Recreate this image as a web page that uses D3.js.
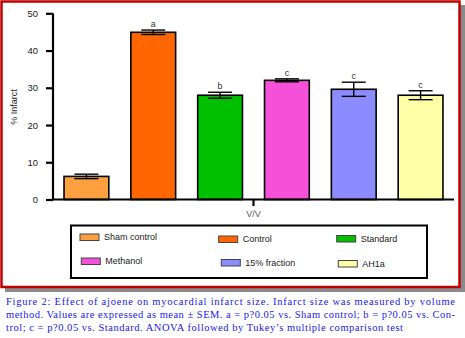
<!DOCTYPE html>
<html><head><meta charset="utf-8">
<script src="https://cdn.jsdelivr.net/npm/d3@7"></script>
<style>body{margin:0;background:#fff}svg{display:block}</style>
</head><body>
<script>
const categories = ["Sham control","Control","Standard","Methanol","15% fraction","AH1a"];
const means = [6.2, 44.9, 28.0, 32.0, 29.6, 28.0];
const sems = [0.6, 0.6, 0.8, 0.4, 1.9, 1.2];
const sigLetters = ["", "a", "b", "c", "c", "c"];
const colors = ["#FFA040","#FF6600","#00C000","#F550D8","#8C8CFF","#FFFFA8"];
const yTicks = [0,10,20,30,40,50];
const xLabel = "V/V";
const yLabel = "% Infarct";
const captionLines = [
 "Figure 2: Effect of ajoene on myocardial infarct size. Infarct size was measured by volume",
 "method. Values are expressed as mean \u00b1 SEM. a = p?0.05 vs. Sham control; b = p?0.05 vs. Con-",
 "trol; c = p?0.05 vs. Standard. ANOVA followed by Tukey\u2019s multiple comparison test"
];

const W=465,H=338;
const svg=d3.select("body").append("svg").attr("width",W).attr("height",H);
// shadow + frame
svg.append("rect").attr("x",5).attr("y",5).attr("width",460).attr("height",287).attr("fill","#8a8a8a");
svg.append("rect").attr("x",1.5).attr("y",1.5).attr("width",458).attr("height",285.5)
  .attr("fill","#fff").attr("stroke","#C00000").attr("stroke-width",2.5);

const x=d3.scaleBand().domain(categories).range([53,454]).paddingInner(0.33).paddingOuter(0.165);
const y=d3.scaleLinear().domain([0,50]).range([199.5,13.3]);

// bars
const g=svg.append("g");
g.selectAll("rect.bar").data(categories).join("rect")
  .attr("x",d=>x(d)).attr("width",x.bandwidth())
  .attr("y",(d,i)=>y(means[i])).attr("height",(d,i)=>y(0)-y(means[i]))
  .attr("fill",(d,i)=>colors[i]).attr("stroke","#000").attr("stroke-width",1.6);

// error bars
const cap=12;
categories.forEach((c,i)=>{
  const cx=x(c)+x.bandwidth()/2;
  const t=y(means[i]+sems[i]), b=y(means[i]-sems[i]);
  g.append("line").attr("x1",cx).attr("x2",cx).attr("y1",t).attr("y2",b).attr("stroke","#000").attr("stroke-width",1.4);
  g.append("line").attr("x1",cx-cap).attr("x2",cx+cap).attr("y1",t).attr("y2",t).attr("stroke","#000").attr("stroke-width",1.4);
  g.append("line").attr("x1",cx-cap).attr("x2",cx+cap).attr("y1",b).attr("y2",b).attr("stroke","#000").attr("stroke-width",1.4);
  if(sigLetters[i]) g.append("text").attr("x",cx).attr("y",t-3).attr("text-anchor","middle")
     .attr("font-family","Liberation Sans, Arial, sans-serif").attr("font-size",9).attr("fill","#333").text(sigLetters[i]);
});

// y axis
const ya=svg.append("g").attr("transform","translate(53,0)")
  .call(d3.axisLeft(y).tickValues(yTicks).tickSize(7).tickPadding(8));
ya.select(".domain").attr("stroke-width",2.2).attr("d","M0,"+y(0)+"V"+y(50)).attr("stroke","#000");
ya.selectAll(".tick line").attr("stroke-width",2.2).attr("stroke","#000");
ya.selectAll(".tick text").attr("font-family","Liberation Sans, Arial, sans-serif").attr("font-size",9.5).attr("fill","#222");
// x axis
svg.append("line").attr("x1",52).attr("x2",454).attr("y1",y(0)).attr("y2",y(0)).attr("stroke","#000").attr("stroke-width",2.2);
svg.append("line").attr("x1",253.5).attr("x2",253.5).attr("y1",y(0)).attr("y2",206).attr("stroke","#000").attr("stroke-width",2.2);
svg.append("text").attr("x",253.5).attr("y",216.5).attr("text-anchor","middle")
  .attr("font-family","Liberation Sans, Arial, sans-serif").attr("font-size",9).attr("fill","#556").text(xLabel);
svg.append("text").attr("transform","translate(17,107) rotate(-90)").attr("text-anchor","middle")
  .attr("font-family","Liberation Sans, Arial, sans-serif").attr("font-size",9).attr("fill","#222").text(yLabel);

// legend
svg.append("rect").attr("x",71).attr("y",225.5).attr("width",356).attr("height",52.5)
  .attr("fill","#fff").attr("stroke","#000").attr("stroke-width",2);
const legPos=[[80,234],[218.7,236],[336.7,235.5],[81.3,258],[221.3,259.5],[338.3,260.5]];
categories.forEach((c,i)=>{
  const [lx,ly]=legPos[i];
  svg.append("rect").attr("x",lx).attr("y",ly).attr("width",19).attr("height",6.5)
    .attr("fill",colors[i]).attr("stroke","#444").attr("stroke-width",1);
  svg.append("text").attr("x",lx+24).attr("y",ly+6.3)
    .attr("font-family","Liberation Sans, Arial, sans-serif").attr("font-size",9).attr("fill","#222").text(c);
});

// caption
const capY=[304.5,317.8,331];
captionLines.forEach((t,i)=>{
  const tx=svg.append("text").attr("x",6).attr("y",capY[i])
    .attr("font-family","Liberation Serif, Times New Roman, serif").attr("font-size",10.5).attr("fill","#2020E8").text(t);
  tx.attr("textLength", i<2 ? 449 : 397).attr("lengthAdjust", "spacing");
});
</script>
</body></html>
